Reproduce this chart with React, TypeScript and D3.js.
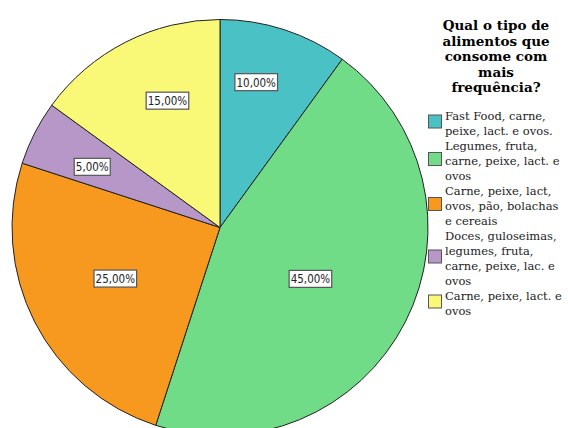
import React from "react";
import * as d3 from "d3";

const categories: string[][] = [
  ["Fast Food, carne,", "peixe, lact. e ovos."],
  ["Legumes, fruta,", "carne, peixe, lact. e", "ovos"],
  ["Carne, peixe, lact,", "ovos, pão, bolachas", "e cereais"],
  ["Doces, guloseimas,", "legumes, fruta,", "carne, peixe, lac. e", "ovos"],
  ["Carne, peixe, lact. e", "ovos"],
];
const values: number[] = [10, 45, 25, 5, 15];
const valueLabels: string[] = ["10,00%", "45,00%", "25,00%", "5,00%", "15,00%"];
const titleLines: string[] = ["Qual o tipo de", "alimentos que", "consome com", "mais", "frequência?"];

const colors = ["#4AC2C5", "#70DC87", "#F8991F", "#B797C8", "#FAF877"];
// label placement: [radius fraction, angle nudge in degrees]
const labelPlacement: [number, number][] = [
  [0.72, -4],
  [0.5, 2.6],
  [0.56, 1],
  [0.68, -1.6],
  [0.66, 4.5],
];

const W = 568;
const H = 428;
const cx = 220;
const cy = 227.5;
const R = 208;

export default function App() {
  const pie = d3.pie<number>().sort(null).value((d) => d);
  const arcs = pie(values);
  const arc = d3.arc<d3.PieArcDatum<number>>().innerRadius(0).outerRadius(R);

  const lineH = 15;
  let lineIdx = 0;
  const legendStartBaseline = 120;

  return (
    <svg
      width={W}
      height={H}
      style={{ position: "absolute", left: 0, top: 0, background: "#fff" }}
    >
      <g transform={`translate(${cx},${cy})`}>
        {arcs.map((a, i) => (
          <path key={i} d={arc(a) || ""} fill={colors[i]} stroke="#222" strokeWidth={1} />
        ))}
        {arcs.map((a, i) => {
          const [rf, nudge] = labelPlacement[i];
          const ang = (a.startAngle + a.endAngle) / 2 + (nudge * Math.PI) / 180;
          const r = rf * R;
          const x = r * Math.sin(ang);
          const y = -r * Math.cos(ang);
          const w = valueLabels[i].length * 6.6 + 3;
          return (
            <g key={"l" + i} transform={`translate(${x},${y})`}>
              <rect x={-w / 2} y={-8.5} width={w} height={17} fill="#fff" stroke="#555" strokeWidth={1.2} />
              <text
                x={0}
                y={4.3}
                textAnchor="middle"
                fontFamily="DejaVu Sans Condensed, DejaVu Sans"
                fontSize={11.5}
                fill="#222"
              >
                {valueLabels[i]}
              </text>
            </g>
          );
        })}
      </g>
      <g>
        {titleLines.map((t, i) => (
          <text
            key={i}
            x={496}
            y={30 + i * 15.5}
            textAnchor="middle"
            fontFamily="DejaVu Serif, serif"
            fontWeight="bold"
            fontSize={13.5}
            fill="#000"
          >
            {t}
          </text>
        ))}
      </g>
      <g>
        {categories.map((lines, i) => {
          const first = legendStartBaseline + lineIdx * lineH;
          lineIdx += lines.length;
          const last = first + (lines.length - 1) * lineH;
          const mid = (first + last) / 2 - 6;
          return (
            <g key={i}>
              <rect x={428.5} y={mid - 6.5} width={13} height={13} fill={colors[i]} stroke="#555" strokeWidth={1} />
              {lines.map((ln, j) => (
                <text
                  key={j}
                  x={445}
                  y={first + j * lineH}
                  fontFamily="DejaVu Serif, serif"
                  fontSize={11.5}
                  fill="#222"
                >
                  {ln}
                </text>
              ))}
            </g>
          );
        })}
      </g>
    </svg>
  );
}
